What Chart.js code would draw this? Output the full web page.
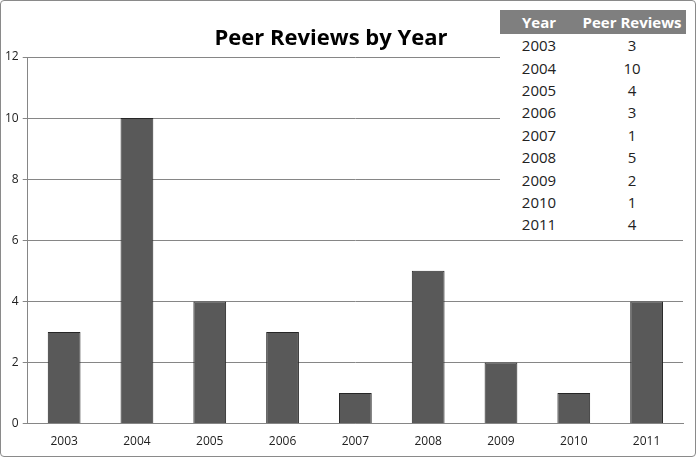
<!DOCTYPE html>
<html>
<head>
<meta charset="utf-8">
<script src="https://cdn.jsdelivr.net/npm/chart.js@4"></script>
<style>
  body { margin: 0; background: #fff; font-family: "Liberation Sans", Arial, sans-serif; }
  #wrap { position: relative; width: 694px; height: 455px; border: 1px solid #8a8a8a; border-radius: 4px; overflow: hidden; }
  #title { position: absolute; left: 160px; width: 340px; top: 20px; text-align: center; font: bold 22px "Open Sans", "DejaVu Sans", sans-serif; color: #000; }
  #tbl { position: absolute; left: 499px; top: 9px; width: 186px; border-collapse: collapse; background: #fff; font: 15px "Open Sans", "DejaVu Sans", sans-serif; color: #222; }
  #tbl th { background: #7f7f7f; color: #fff; font-weight: bold; height: 24px; padding: 0; }
  #tbl td { height: 22.4px; padding: 0; text-align: center; }
</style>
</head>
<body>
<div id="wrap">
  <canvas id="chart" width="694" height="455"></canvas>
  <div id="title">Peer Reviews by Year</div>
  <table id="tbl"><thead><tr><th style="width:78px">Year</th><th>Peer Reviews</th></tr></thead><tbody id="tbody"></tbody></table>
</div>
<script>
// ~ chart data
const years = ["2003", "2004", "2005", "2006", "2007", "2008", "2009", "2010", "2011"];
const reviews = [3, 10, 4, 3, 1, 5, 2, 1, 4];
const yTicks = [0, 2, 4, 6, 8, 10, 12];

// table overlay
const tbody = document.getElementById("tbody");
years.forEach((y, i) => {
  const row = document.createElement("tr");
  row.innerHTML = `<td>${y}</td><td>${reviews[i]}</td>`;
  tbody.appendChild(row);
});

const ctx = document.getElementById("chart").getContext("2d");
new Chart(ctx, {
  type: "bar",
  data: {
    labels: years,
    datasets: [{
      data: reviews,
      backgroundColor: "#595959",
      borderColor: "#262626",
      borderWidth: 1,
      barPercentage: 0.45,
      categoryPercentage: 1,
    }],
  },
  options: {
    responsive: false,
    animation: false,
    layout: { padding: { top: 56, right: 12, left: 0, bottom: 4 } },
    plugins: { legend: { display: false }, tooltip: { enabled: false } },
    scales: {
      x: {
        grid: { display: false },
        border: { color: "#868686" },
        ticks: { color: "#222", font: { size: 12, family: "Open Sans" } },
      },
      y: {
        min: 0, max: 12,
        afterBuildTicks: (axis) => { axis.ticks = yTicks.map((v) => ({ value: v })); },
        grid: { color: "#868686", drawTicks: true, tickLength: 5 },
        border: { color: "#868686" },
        ticks: { color: "#222", font: { size: 12, family: "Open Sans" }, padding: 4 },
      },
    },
  },
});
</script>
</body>
</html>
